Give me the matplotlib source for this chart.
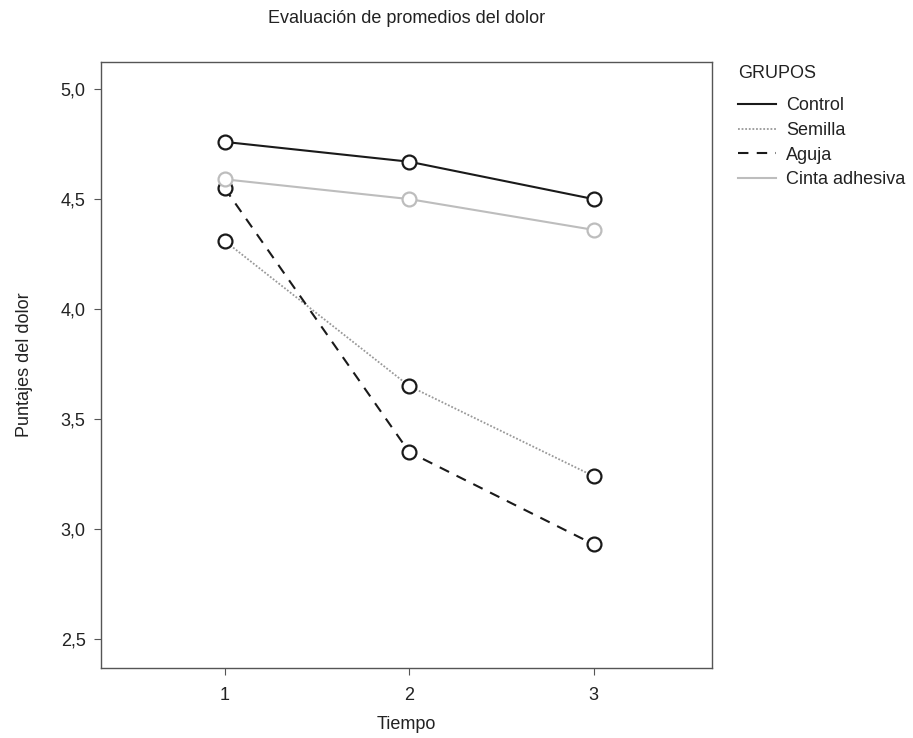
import matplotlib
matplotlib.use("Agg")
from matplotlib import pyplot as plt
from matplotlib.lines import Line2D
from matplotlib.ticker import FuncFormatter

plt.rcParams['font.family'] = ['Liberation Sans', 'DejaVu Sans']

tiempo = [1, 2, 3]
grupos = ['Control', 'Semilla', 'Aguja', 'Cinta adhesiva']
control = [4.76, 4.67, 4.50]
semilla = [4.31, 3.65, 3.24]
aguja = [4.55, 3.35, 2.93]
cinta = [4.59, 4.50, 4.36]
y_ticks = [2.5, 3.0, 3.5, 4.0, 4.5, 5.0]

fig = plt.figure(figsize=(9.13, 7.38), dpi=100)
ax = fig.add_axes([0.1106, 0.0949, 0.669, 0.821])

styles = [
    (control, '#1a1a1a', '-', 1.5, '#1a1a1a'),
    (semilla, '#999999', (0, (1, 1)), 1.3, '#1a1a1a'),
    (aguja, '#1a1a1a', (0, (5, 4)), 1.5, '#1a1a1a'),
    (cinta, '#bdbdbd', '-', 1.5, '#bdbdbd'),
]
handles = []
for (vals, col, ls, lw, mec), name in zip(styles, grupos):
    ax.plot(tiempo, vals, color=col, linestyle=ls, linewidth=lw,
            marker='o', markersize=10, markerfacecolor='white',
            markeredgecolor=mec, markeredgewidth=1.6)
    handles.append(Line2D([0], [0], color=col, linestyle=ls, linewidth=lw, label=name))

ax.set_xlim(0.33, 3.64)
ax.set_ylim(2.368, 5.123)
ax.set_xticks(tiempo)
ax.set_yticks(y_ticks)
ax.yaxis.set_major_formatter(FuncFormatter(lambda v, p: f'{v:.1f}'.replace('.', ',')))
ax.tick_params(direction='out', length=5, width=0.8, colors='#555555',
               labelcolor='#222222', labelsize=13, pad=6)
ax.tick_params(axis='x', pad=9)
for s in ax.spines.values():
    s.set_color('#555555')
    s.set_linewidth(1.0)

ax.set_xlabel('Tiempo', fontsize=13, color='#222222', labelpad=8)
ax.set_ylabel('Puntajes del dolor', fontsize=13, color='#222222', labelpad=20)
ax.set_title('Evaluación de promedios del dolor', fontsize=13, color='#222222', pad=28)

leg = ax.legend(handles=handles, title='GRUPOS', loc='upper left',
                bbox_to_anchor=(1.043, 0.995), frameon=False, fontsize=13,
                title_fontsize=13, handlelength=2.1, handletextpad=0.55,
                labelspacing=0.42, borderaxespad=0.0, borderpad=0.0)
leg._legend_box.align = 'left'
leg._legend_box.sep = 11  # a bit more room under the title
for t in leg.get_texts():
    t.set_color('#222222')
leg.get_title().set_color('#222222')

fig.savefig('out.png', dpi=100)
